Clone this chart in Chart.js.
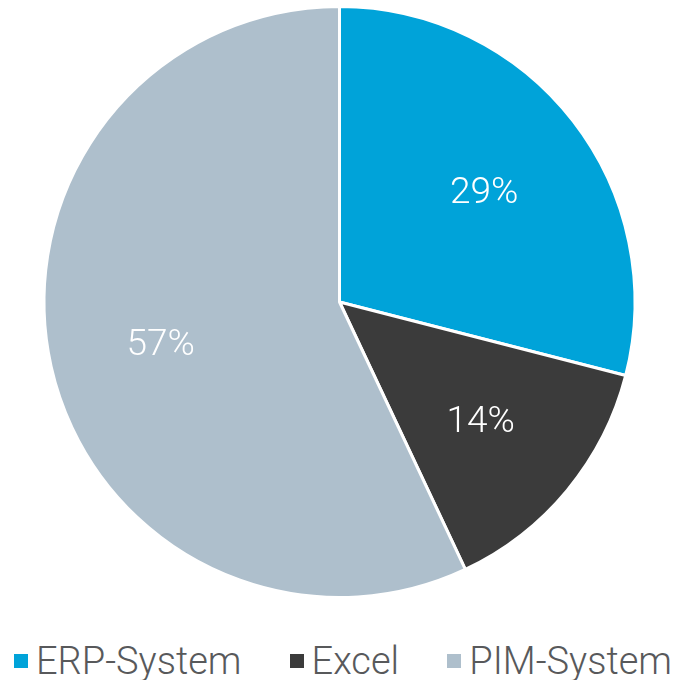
<!DOCTYPE html>
<html>
<head>
<meta charset="utf-8">
<script src="https://cdn.jsdelivr.net/npm/chart.js@4.4.0/dist/chart.umd.min.js"></script>
<style>
  html, body { margin: 0; padding: 0; background: #fff; }
  #wrap { width: 679px; height: 604px; position: relative; }
  .legend {
    display: flex;
    justify-content: space-between;
    align-items: center;
    width: 679px;
    box-sizing: border-box;
    padding: 0 7px 0 14px;
    margin-top: 38px;
    font-family: Roboto, sans-serif;
    font-weight: 300;
    font-size: 38px;
    line-height: 1;
    color: #58595b;
  }
  .legend span.item { display: flex; align-items: center; }
  .legend span.box { width: 14px; height: 14px; margin-right: 8px; display: inline-block; }
</style>
</head>
<body>
<div id="wrap"><canvas id="pie"></canvas></div>
<div class="legend" id="legend"></div>
<script>
// data
const labels = ["ERP-System", "Excel", "PIM-System"];
const values = [29, 14, 57];
const colors = ["#00a3d9", "#3b3b3b", "#aebfcc"];

// white percent labels in the slices
const sliceLabels = {
  id: "sliceLabels",
  afterDatasetsDraw(chart) {
    const ctx = chart.ctx;
    const meta = chart.getDatasetMeta(0);
    ctx.save();
    ctx.fillStyle = "#fff";
    ctx.font = "300 37px Roboto, sans-serif";
    ctx.textAlign = "center";
    ctx.textBaseline = "middle";
    meta.data.forEach((arc, i) => {
      const mid = (arc.startAngle + arc.endAngle) / 2;
      const r = arc.outerRadius * 0.62;
      ctx.fillText(values[i] + "%", arc.x + Math.cos(mid) * r, arc.y + Math.sin(mid) * r + 4);
    });
    ctx.restore();
  }
};

// legend as html, built from the chart's own legend items
const htmlLegend = {
  id: "htmlLegend",
  afterUpdate(chart) {
    const box = document.getElementById("legend");
    box.innerHTML = "";
    const items = chart.options.plugins.legend.labels.generateLabels(chart);
    items.forEach((it) => {
      const el = document.createElement("span");
      el.className = "item";
      const sq = document.createElement("span");
      sq.className = "box";
      sq.style.background = it.fillStyle;
      el.appendChild(sq);
      el.appendChild(document.createTextNode(it.text));
      box.appendChild(el);
    });
  }
};

new Chart(document.getElementById("pie"), {
  type: "pie",
  data: {
    labels: labels,
    datasets: [{
      data: values,
      backgroundColor: colors,
      borderColor: "#fff",
      borderWidth: 3
    }]
  },
  options: {
    responsive: true,
    maintainAspectRatio: false,
    animation: false,
    layout: { padding: { top: 5, bottom: 5 } },
    plugins: {
      tooltip: { enabled: false },
      legend: { display: false }
    }
  },
  plugins: [sliceLabels, htmlLegend]
});
</script>
</body>
</html>
